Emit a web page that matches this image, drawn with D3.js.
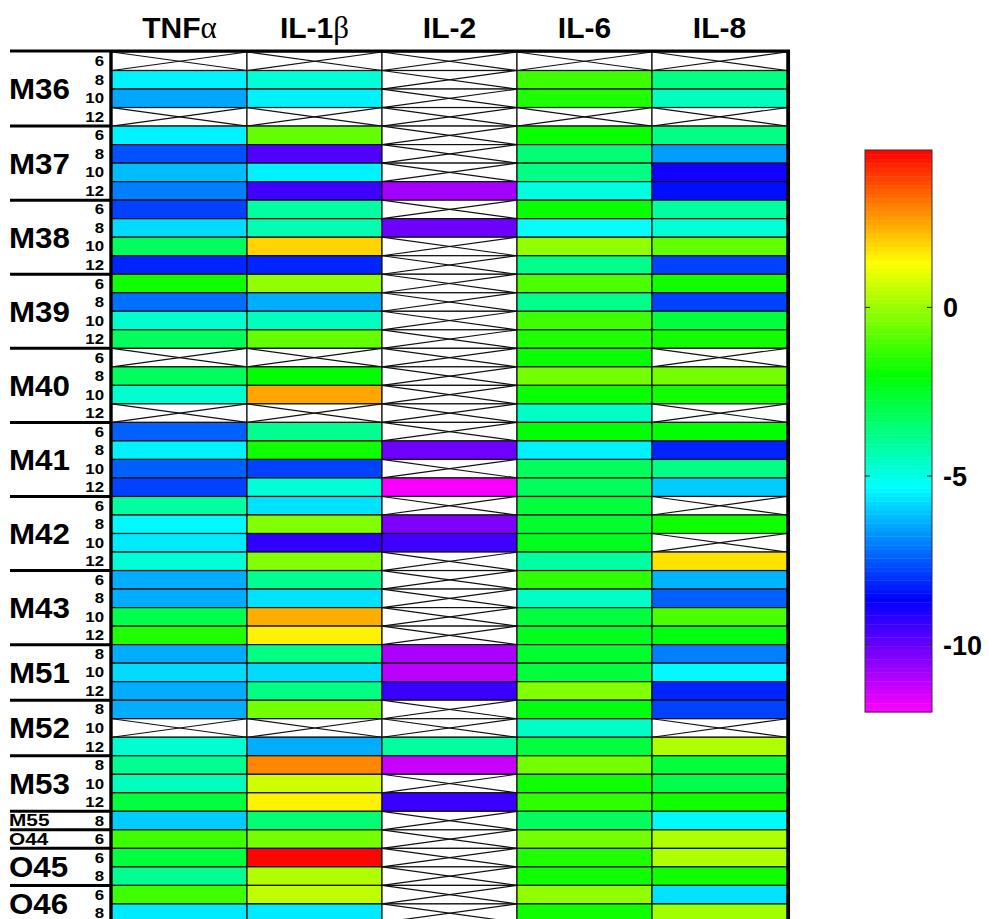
<!DOCTYPE html>
<html>
<head>
<meta charset="utf-8">
<script src="https://cdn.jsdelivr.net/npm/d3@7"></script>
<style>
  html, body { margin: 0; padding: 0; background: #fff; }
  svg { display: block; }
  text { font-family: "Liberation Sans", Arial, sans-serif; font-weight: bold; fill: #000; }
</style>
</head>
<body>
<script>
// Cytokine panel: columns and monkey/dose groups
const columns = ["TNF", "IL-1", "IL-2", "IL-6", "IL-8"];
const columnGreek = ["α", "β", "", "", ""];

const groupNames = ["M36", "M37", "M38", "M39", "M40", "M41", "M42", "M43",
                    "M51", "M52", "M53", "M55", "O44", "O45", "O46"];
const groupDoses = [
  [6, 8, 10, 12], [6, 8, 10, 12], [6, 8, 10, 12], [6, 8, 10, 12],
  [6, 8, 10, 12], [6, 8, 10, 12], [6, 8, 10, 12], [6, 8, 10, 12],
  [8, 10, 12], [8, 10, 12], [8, 10, 12], [8], [6], [6, 8], [6, 8]
];

// Values per cytokine, one per row (null = not measured)
const tnfa = [null, -5.5, -6.5, null, -5.5, -7.6, -6.2, -7.0,
              -7.8, -5.8, -3.2, -8.2, -1.8, -7.2, -4.7, -3.2,
              null, -3.2, -4.7, null, -7.4, -5.5, -7.4, -7.8,
              -4.1, -5.4, -5.6, -4.8, -6.4, -6.4, -3.0, -1.6,
              -6.4, -5.8, -6.4, -6.4, null, -4.7, -3.9, -4.5, -2.8,
              -6.0, -1.2, -2.8, -3.9, -1.2, -5.6];
const il1b = [null, -4.8, -5.5, null, -0.7, -9.7, -5.5, -9.5,
              -4.1, -4.3, 1.9, -8.2, -0.1, -6.4, -4.5, -0.7,
              null, -2.0, 2.5, null, -3.9, -1.8, -7.8, -4.8,
              -5.7, -0.3, -9.3, -0.3, -3.9, -5.7, 2.4, 1.5,
              -3.7, -5.8, -3.7, -0.5, null, -6.4, 2.9, 0.7, 1.5,
              -3.5, -0.5, 4.6, 0.3, 0.5, -5.6];
const il2  = [null, null, null, null, null, null, null, -10.8,
              null, -10.1, null, null, null, null, null, null,
              null, null, null, null, null, -10.1, null, -11.9,
              null, -10.3, -9.5, null, null, null, null, null,
              -10.9, -11.1, -9.4, null, null, -4.1, -11.3, null, -9.4,
              null, null, null, null, null, null];
const il6  = [null, -1.2, -1.6, null, -1.9, -3.5, -3.7, -4.9,
              -1.9, -5.3, -0.1, -3.8, -1.0, -3.8, -1.2, -1.6,
              -1.9, -0.5, -1.9, -4.6, -2.0, -5.5, -3.2, -3.2,
              -2.8, -2.6, -2.4, -4.1, -1.4, -4.6, -2.8, -2.4,
              -2.6, -2.8, -0.3, -2.2, -4.6, -2.8, -0.5, -1.8, -1.4,
              -3.2, -0.5, -1.6, -1.8, -0.1, -1.8];
const il8  = [null, -3.7, -4.5, null, -3.7, -6.6, -8.9, -8.5,
              -4.1, -4.8, -0.7, -7.8, -1.8, -7.8, -2.8, -1.8,
              null, -0.5, -1.8, null, -2.0, -8.2, -3.7, -6.0,
              null, -1.8, null, 1.7, -6.3, -7.4, -1.0, -2.2,
              -7.0, -5.4, -8.2, -7.8, null, 0.3, -2.8, -3.0, -1.8,
              -5.4, 0.3, 0.3, -1.8, -5.7, 0.1];

const colorDomain = [-12, 4.67];
const colorTicks = [0, -5, -10];

// ---------------------------------------------------------------
const W = 989, H = 919;
const series = [tnfa, il1b, il2, il6, il8];

// flatten groups into rows
const rows = [];
groupNames.forEach((g, gi) => {
  groupDoses[gi].forEach((d, di) => rows.push({ group: gi, dose: d, idx: di }));
});

const rowH = 18.52;
const gridTop = 52;
const y = d3.scaleBand().domain(d3.range(rows.length)).range([gridTop, gridTop + rows.length * rowH]).padding(0);
const x = d3.scaleBand().domain(d3.range(columns.length)).range([112, 787]).padding(0);

const hue = d3.scaleLinear().domain(colorDomain).range([300, 0]).clamp(true);
const color = v => d3.hsl(hue(v), 1, 0.5).toString();

const svg = d3.select("body").append("svg").attr("width", W).attr("height", H);
svg.append("rect").attr("width", W).attr("height", H).attr("fill", "#fff");

// column headers
const head = svg.append("g");
columns.forEach((c, i) => {
  const t = head.append("text")
    .attr("x", x(i) + x.bandwidth() / 2)
    .attr("y", 38)
    .attr("text-anchor", "middle")
    .attr("font-size", 30)
    .text(c);
  if (columnGreek[i]) {
    t.append("tspan")
      .attr("font-family", "'Liberation Serif', 'DejaVu Serif', serif")
      .attr("font-weight", "normal")
      .attr("font-size", 31)
      .text(columnGreek[i]);
  }
});

// heat cells
const cells = svg.append("g");
series.forEach((vals, ci) => {
  vals.forEach((v, ri) => {
    const x0 = x(ci), y0 = y(ri), w = x.bandwidth(), h = y.bandwidth();
    cells.append("rect")
      .attr("x", x0).attr("y", y0).attr("width", w).attr("height", h)
      .attr("fill", v == null ? "#fff" : color(v))
      .attr("stroke", "#111").attr("stroke-width", 1.2);
    if (v == null) {
      cells.append("line").attr("x1", x0).attr("y1", y0).attr("x2", x0 + w).attr("y2", y0 + h)
        .attr("stroke", "#111").attr("stroke-width", 1.2);
      cells.append("line").attr("x1", x0).attr("y1", y0 + h).attr("x2", x0 + w).attr("y2", y0)
        .attr("stroke", "#111").attr("stroke-width", 1.2);
    }
  });
});

// dose sub-labels
const lab = svg.append("g");
rows.forEach((r, ri) => {
  lab.append("text")
    .attr("transform", `translate(104,${y(ri) + y.bandwidth() / 2 + 5}) scale(1.02,0.92)`)
    .attr("text-anchor", "end")
    .attr("font-size", 16.5)
    .text(r.dose);
});

// group labels and separators
let start = 0;
groupNames.forEach((g, gi) => {
  const n = groupDoses[gi].length;
  const gy0 = y(start), gy1 = y(start) + n * rowH;
  const mid = (gy0 + gy1) / 2;
  const small = n === 1;
  const fs = small ? 16 : 29;
  lab.append("text")
    .attr("transform", `translate(9,${mid + 0.358 * fs}) scale(${small ? 1.3 : 1.08},1)`)
    .attr("font-size", fs)
    .text(g);
  if (gi > 0) {
    lab.append("line").attr("x1", 10).attr("x2", 111).attr("y1", gy0).attr("y2", gy0)
      .attr("stroke", "#000").attr("stroke-width", 3);
  }
  start += n;
});

// frame
const frame = svg.append("g").attr("stroke", "#000");
frame.append("line").attr("x1", 10).attr("x2", 790).attr("y1", 51).attr("y2", 51).attr("stroke-width", 3);
frame.append("line").attr("x1", 110.8).attr("x2", 110.8).attr("y1", 50).attr("y2", H).attr("stroke-width", 3);
frame.append("line").attr("x1", 788.3).attr("x2", 788.3).attr("y1", 50).attr("y2", H).attr("stroke-width", 3.5);

// colorbar
const cbX = 865, cbW = 67;
const cbY = d3.scaleLinear().domain(colorDomain).range([712, 150]);
const nBands = 128;
const step = (colorDomain[1] - colorDomain[0]) / nBands;
const cb = svg.append("g");
d3.range(nBands).forEach(i => {
  const v0 = colorDomain[0] + i * step;
  cb.append("rect")
    .attr("x", cbX).attr("width", cbW)
    .attr("y", cbY(v0 + step)).attr("height", cbY(v0) - cbY(v0 + step) + 0.4)
    .attr("fill", color(v0 + step / 2));
});
cb.append("rect").attr("x", cbX).attr("y", cbY(colorDomain[1])).attr("width", cbW)
  .attr("height", cbY(colorDomain[0]) - cbY(colorDomain[1]))
  .attr("fill", "none").attr("stroke", "#333").attr("stroke-width", 1);
colorTicks.forEach(t => {
  cb.append("line").attr("x1", cbX).attr("x2", cbX + 5).attr("y1", cbY(t)).attr("y2", cbY(t))
    .attr("stroke", "#333").attr("stroke-width", 1.2);
  cb.append("line").attr("x1", cbX + cbW - 5).attr("x2", cbX + cbW).attr("y1", cbY(t)).attr("y2", cbY(t))
    .attr("stroke", "#333").attr("stroke-width", 1.2);
  cb.append("text").attr("x", 943).attr("y", cbY(t) + 10).attr("font-size", 27).text(t);
});
</script>
</body>
</html>
